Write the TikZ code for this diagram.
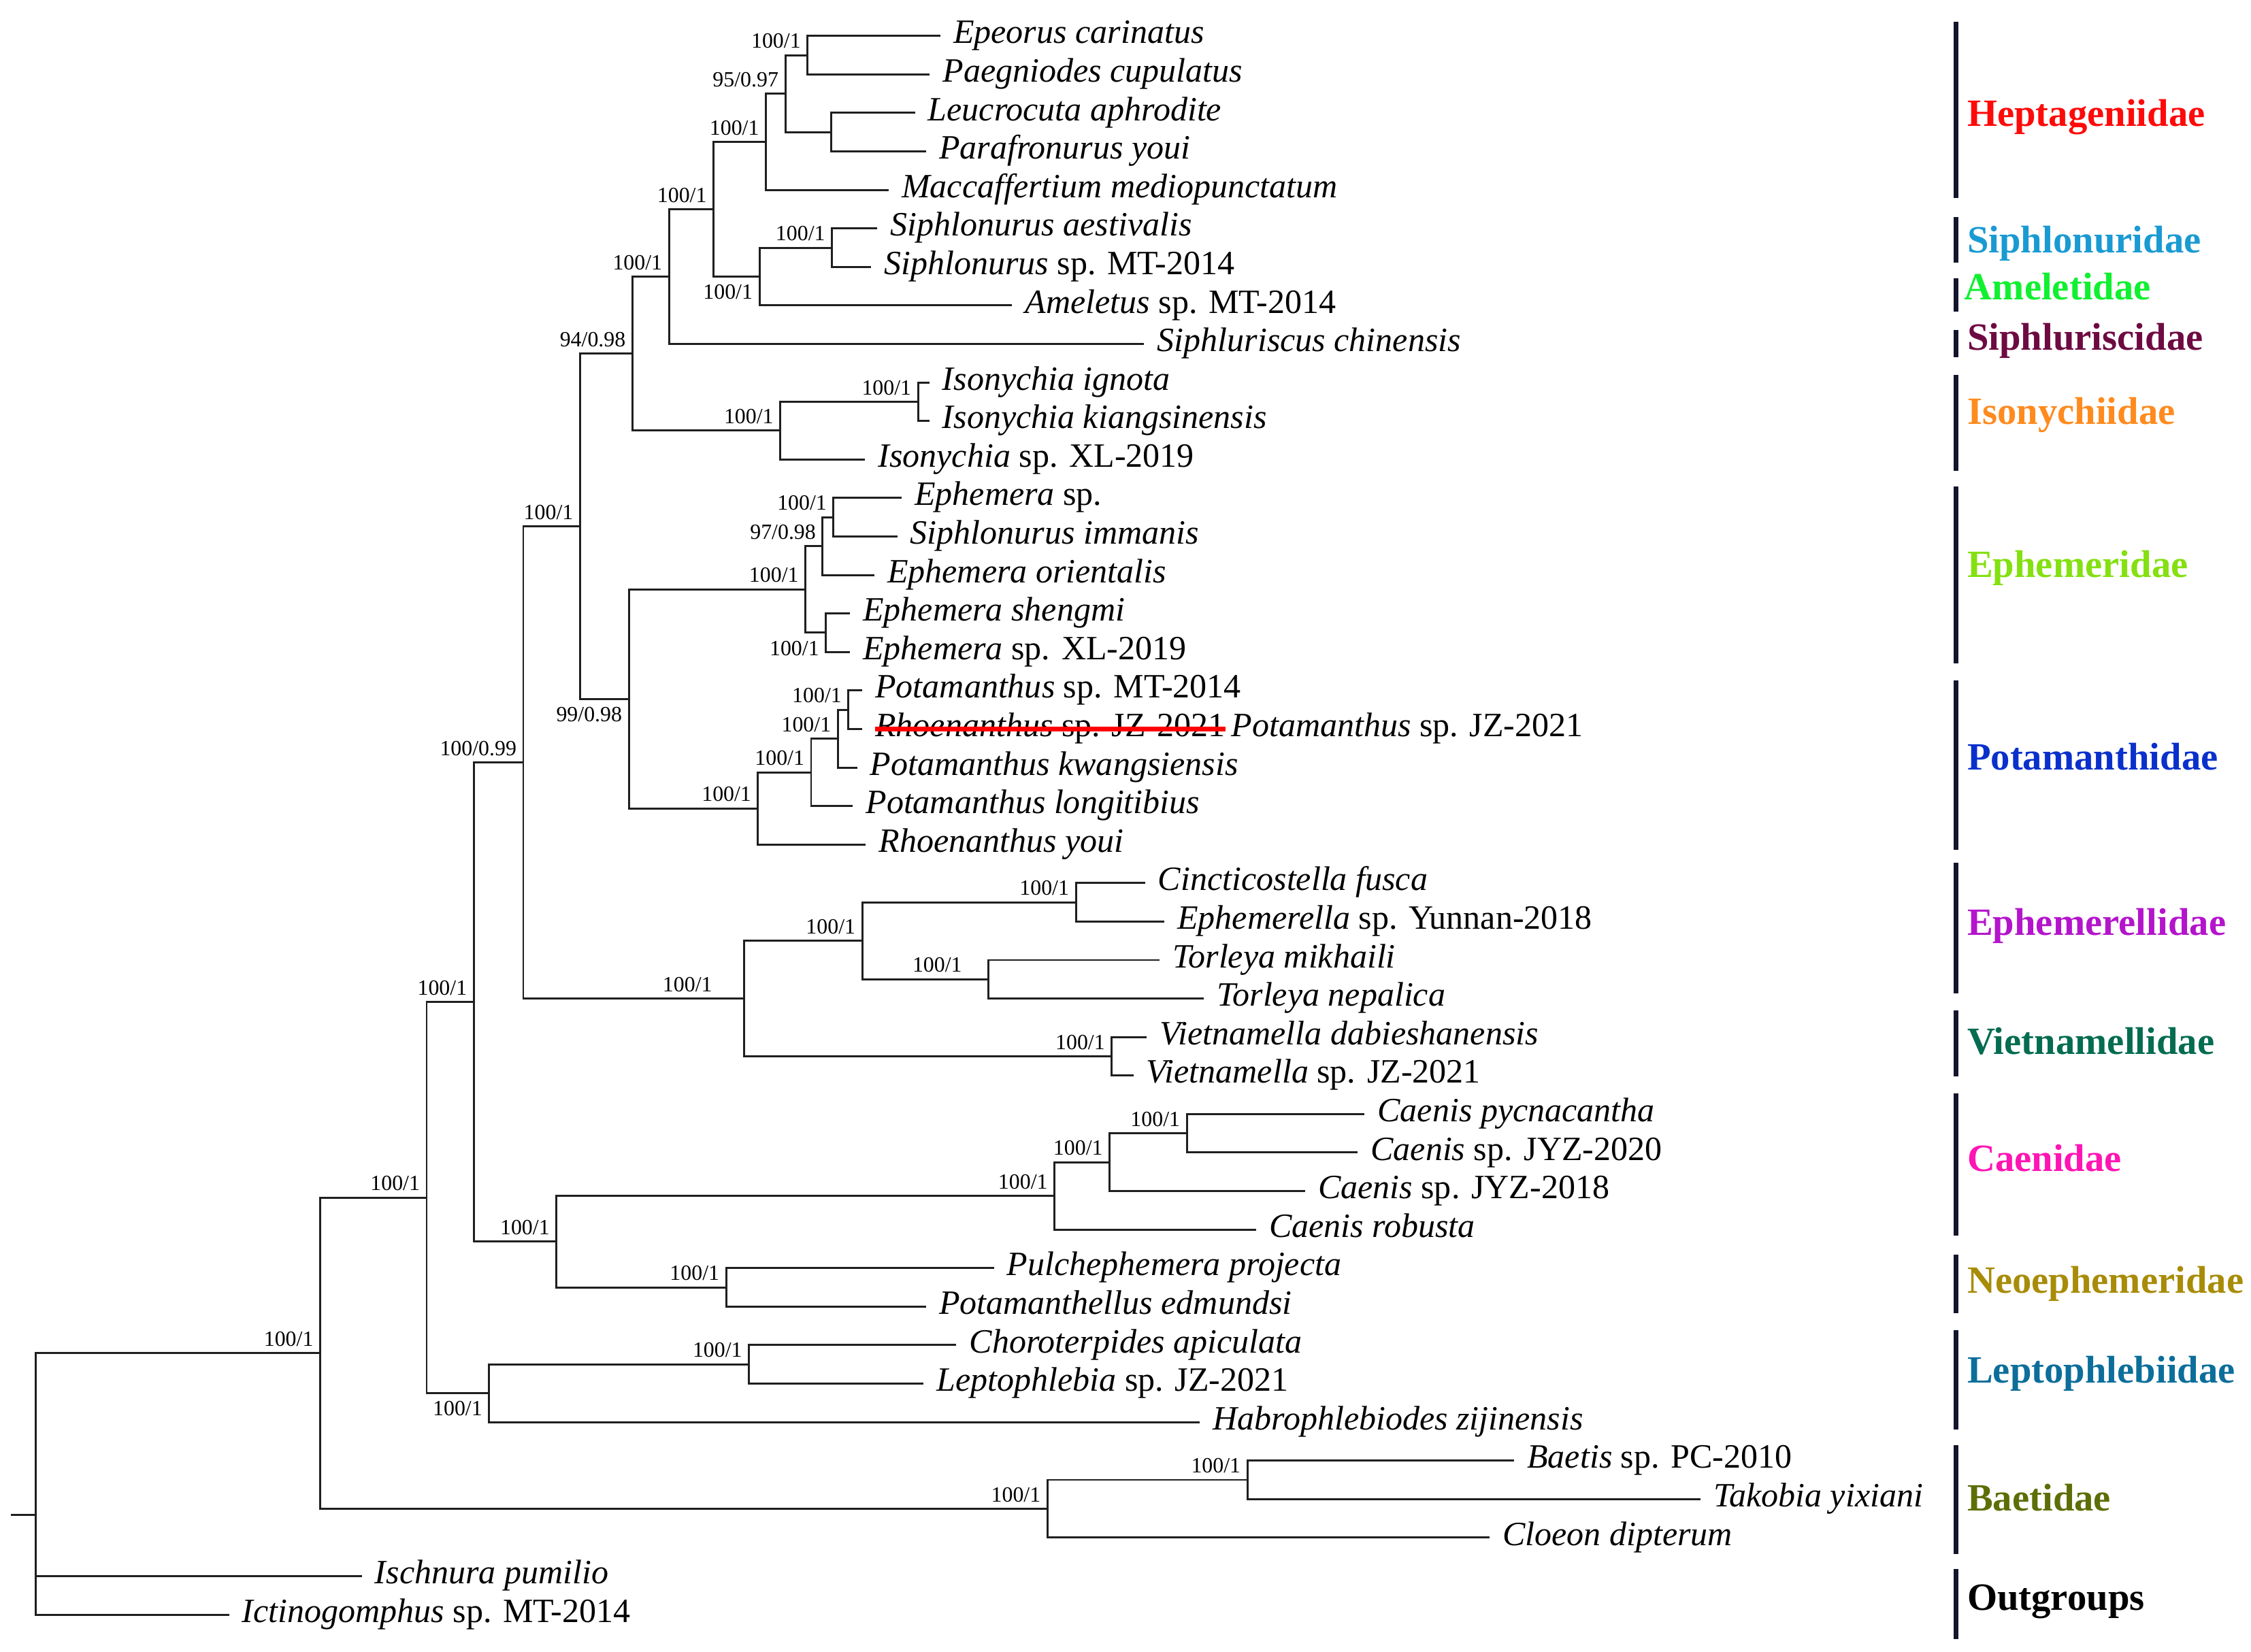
\documentclass[tikz,border=0pt]{standalone}
\usepackage{fontspec}
\setmainfont{Liberation Serif}
\usetikzlibrary{positioning}
\definecolor{hepta}{HTML}{FF0A0A}
\definecolor{siphlo}{HTML}{1A9AD2}
\definecolor{amele}{HTML}{10F030}
\definecolor{siphlu}{HTML}{6E0A42}
\definecolor{isony}{HTML}{FF8A1E}
\definecolor{ephem}{HTML}{84E010}
\definecolor{potam}{HTML}{0A30CC}
\definecolor{ephla}{HTML}{B414CC}
\definecolor{vietn}{HTML}{046C50}
\definecolor{caeni}{HTML}{FF14B4}
\definecolor{neoep}{HTML}{A88C08}
\definecolor{lepto}{HTML}{0C6E9A}
\definecolor{baeti}{HTML}{5E6E06}
\definecolor{barc}{HTML}{14142C}
\tikzset{
  leaf/.style={anchor=west, inner xsep=5pt, inner ysep=0pt,
    text height=0.8em, text depth=0.2em, font=\fontsize{13.5}{15}\selectfont},
  bs/.style={inner sep=1pt, font=\fontsize{8.6}{9}\selectfont},
  bsa/.style={bs, anchor=south east, xshift=-1.5pt, yshift=1.5pt},
  bsb/.style={bs, anchor=north east, xshift=-1.5pt, yshift=-2pt},
  fam/.style={anchor=west, inner sep=0pt, text height=0.66em, text depth=0pt,
    font=\fontsize{15.3}{17}\selectfont\bfseries},
  br/.style={line width=0.8pt, draw=black!88},
  bar/.style={line width=2pt, draw=barc},
  strike/.style={line width=1.9pt, draw=red}
}
\begin{document}
\begin{tikzpicture}[x=0.02cm, y=-0.5366cm]
  \useasboundingbox (0,0.068) rectangle (1568,42.968);
  % tips, one row each
  \node[leaf] (ec) at (655,1) {\textit{Epeorus carinatus}};
  \node[leaf] (pc) at (647.6,2) {\textit{Paegniodes cupulatus}};
  \node[leaf] (la) at (637.3,3) {\textit{Leucrocuta aphrodite}};
  \node[leaf] (py) at (645,4) {\textit{Parafronurus youi}};
  \node[leaf] (mm) at (619,5) {\textit{Maccaffertium mediopunctatum}};
  \node[leaf] (sa) at (611,6) {\textit{Siphlonurus aestivalis}};
  \node[leaf] (sm) at (606.7,7) {\textit{Siphlonurus} sp. MT-2014};
  \node[leaf] (am) at (705,8) {\textit{Ameletus} sp. MT-2014};
  \node[leaf] (sc) at (797,9) {\textit{Siphluriscus chinensis}};
  \node[leaf] (ii) at (647.3,10) {\textit{Isonychia ignota}};
  \node[leaf] (ik) at (647.3,11) {\textit{Isonychia kiangsinensis}};
  \node[leaf] (ix) at (602.6,12) {\textit{Isonychia} sp. XL-2019};
  \node[leaf] (es) at (628,13) {\textit{Ephemera} sp.};
  \node[leaf] (si) at (625,14) {\textit{Siphlonurus immanis}};
  \node[leaf] (eo) at (609,15) {\textit{Ephemera orientalis}};
  \node[leaf] (eh) at (592,16) {\textit{Ephemera shengmi}};
  \node[leaf] (ex) at (592,17) {\textit{Ephemera} sp. XL-2019};
  \node[leaf] (pm) at (600.6,18) {\textit{Potamanthus} sp. MT-2014};
  \node[leaf] (rs) at (600.6,19) {\textit{Rhoenanthus} sp. JZ-2021};
  \node[leaf] (pk) at (597,20) {\textit{Potamanthus kwangsiensis}};
  \node[leaf] (pl) at (594,21) {\textit{Potamanthus longitibius}};
  \node[leaf] (ry) at (603,22) {\textit{Rhoenanthus youi}};
  \node[leaf] (cf) at (797.6,23) {\textit{Cincticostella fusca}};
  \node[leaf] (ey) at (811,24) {\textit{Ephemerella} sp. Yunnan-2018};
  \node[leaf] (tm) at (807.7,25) {\textit{Torleya mikhaili}};
  \node[leaf] (tn) at (838.5,26) {\textit{Torleya nepalica}};
  \node[leaf] (vd) at (798.8,27) {\textit{Vietnamella dabieshanensis}};
  \node[leaf] (vj) at (789.5,28) {\textit{Vietnamella} sp. JZ-2021};
  \node[leaf] (cp) at (950.5,29) {\textit{Caenis pycnacantha}};
  \node[leaf] (cj) at (945.7,30) {\textit{Caenis} sp. JYZ-2020};
  \node[leaf] (ck) at (909,31) {\textit{Caenis} sp. JYZ-2018};
  \node[leaf] (cr) at (875,32) {\textit{Caenis robusta}};
  \node[leaf] (pp) at (692.3,33) {\textit{Pulchephemera projecta}};
  \node[leaf] (pe) at (645,34) {\textit{Potamanthellus edmundsi}};
  \node[leaf] (ca) at (666.2,35) {\textit{Choroterpides apiculata}};
  \node[leaf] (lj) at (643.3,36) {\textit{Leptophlebia} sp. JZ-2021};
  \node[leaf] (hz) at (835.7,37) {\textit{Habrophlebiodes zijinensis}};
  \node[leaf] (bp) at (1054.7,38) {\textit{Baetis} sp. PC-2010};
  \node[leaf] (ty) at (1184.4,39) {\textit{Takobia yixiani}};
  \node[leaf] (cd) at (1037.6,40) {\textit{Cloeon dipterum}};
  \node[leaf] (ip) at (252,41) {\textit{Ischnura pumilio}};
  \node[leaf] (ic) at (159.5,42) {\textit{Ictinogomphus} sp. MT-2014};
  % corrected name
  \draw[strike] ([xshift=5pt]rs.west) -- ([xshift=-5pt]rs.east);
  \node[leaf, xshift=-8pt] (ps) at (rs.east) {\textit{Potamanthus} sp. JZ-2021};
  % inner nodes
  \coordinate (hA) at (562.5,1.5);
  \coordinate (hB) at (579,3.5);
  \coordinate (hC) at (547,2.5);
  \coordinate (hD) at (533.5,3.75);
  \coordinate (sA) at (579.5,6.5);
  \coordinate (sB) at (529,7.25);
  \coordinate (nE) at (497,5.5);
  \coordinate (nF) at (466,7.25);
  \coordinate (iA) at (639.5,10.5);
  \coordinate (iB) at (543.5,11.25);
  \coordinate (nG) at (440.5,9.25);
  \coordinate (eA) at (580.6,13.5);
  \coordinate (eB) at (573,14.25);
  \coordinate (eC) at (575.3,16.5);
  \coordinate (eD) at (561,15.375);
  \coordinate (pA) at (591,18.5);
  \coordinate (pB) at (583.6,19.25);
  \coordinate (pC) at (565,20.125);
  \coordinate (pD) at (528,21.063);
  \coordinate (nH) at (438,18.219);
  \coordinate (nI) at (404,13.734);
  \coordinate (mA) at (749.4,23.5);
  \coordinate (mB) at (688.5,25.5);
  \coordinate (mC) at (600.6,24.5);
  \coordinate (vA) at (774.4,27.5);
  \coordinate (mD) at (518.2,26);
  \coordinate (nJ) at (364.5,19.867);
  \coordinate (cA) at (826.7,29.5);
  \coordinate (cB) at (772.9,30.25);
  \coordinate (cC) at (734.5,31.125);
  \coordinate (kA) at (505.8,33.5);
  \coordinate (nK) at (387.6,32.313);
  \coordinate (nL) at (330,26.09);
  \coordinate (lA) at (521.7,35.5);
  \coordinate (lB) at (340.7,36.25);
  \coordinate (nM) at (297.2,31.17);
  \coordinate (bA) at (868.9,38.5);
  \coordinate (bB) at (729.6,39.25);
  \coordinate (nN) at (223,35.21);
  \coordinate (rt) at (24.7,39.403);
  \coordinate (st) at (7.7,39.403);
  % branches
  \draw[br] (ec.west) -| (hA) |- (pc.west);
  \draw[br] (la.west) -| (hB) |- (py.west);
  \draw[br] (hA) -| (hC) |- (hB);
  \draw[br] (hC) -| (hD) |- (mm.west);
  \draw[br] (sa.west) -| (sA) |- (sm.west);
  \draw[br] (sA) -| (sB) |- (am.west);
  \draw[br] (hD) -| (nE) |- (sB);
  \draw[br] (nE) -| (nF) |- (sc.west);
  \draw[br] (ii.west) -| (iA) |- (ik.west);
  \draw[br] (iA) -| (iB) |- (ix.west);
  \draw[br] (nF) -| (nG) |- (iB);
  \draw[br] (es.west) -| (eA) |- (si.west);
  \draw[br] (eA) -| (eB) |- (eo.west);
  \draw[br] (eh.west) -| (eC) |- (ex.west);
  \draw[br] (eB) -| (eD) |- (eC);
  \draw[br] (pm.west) -| (pA) |- (rs.west);
  \draw[br] (pA) -| (pB) |- (pk.west);
  \draw[br] (pB) -| (pC) |- (pl.west);
  \draw[br] (pC) -| (pD) |- (ry.west);
  \draw[br] (eD) -| (nH) |- (pD);
  \draw[br] (nG) -| (nI) |- (nH);
  \draw[br] (cf.west) -| (mA) |- (ey.west);
  \draw[br] (tm.west) -| (mB) |- (tn.west);
  \draw[br] (mA) -| (mC) |- (mB);
  \draw[br] (vd.west) -| (vA) |- (vj.west);
  \draw[br] (mC) -| (mD) |- (vA);
  \draw[br] (nI) -| (nJ) |- (mD);
  \draw[br] (cp.west) -| (cA) |- (cj.west);
  \draw[br] (cA) -| (cB) |- (ck.west);
  \draw[br] (cB) -| (cC) |- (cr.west);
  \draw[br] (pp.west) -| (kA) |- (pe.west);
  \draw[br] (cC) -| (nK) |- (kA);
  \draw[br] (nJ) -| (nL) |- (nK);
  \draw[br] (ca.west) -| (lA) |- (lj.west);
  \draw[br] (lA) -| (lB) |- (hz.west);
  \draw[br] (nL) -| (nM) |- (lB);
  \draw[br] (bp.west) -| (bA) |- (ty.west);
  \draw[br] (bA) -| (bB) |- (cd.west);
  \draw[br] (nM) -| (nN) |- (bB);
  \draw[br] (nN) -| (rt) |- (ic.west);
  \draw[br] (rt) |- (ip.west);
  \draw[br] (st) -- (rt);
  % support values
  \node[bsa] (shA) at (hA) {100/1};
  \node[bsa] (shC) at (hC) {95/0.97};
  \node[bsa] (shD) at (hD) {100/1};
  \node[bsa] (ssA) at (sA) {100/1};
  \node[bsb] (ssB) at (sB) {100/1};
  \node[bsa] (snE) at (nE) {100/1};
  \node[bsa] (snF) at (nF) {100/1};
  \node[bsa] (siA) at (iA) {100/1};
  \node[bsa] (siB) at (iB) {100/1};
  \node[bsa] (snG) at (nG) {94/0.98};
  \node[bsa] (seA) at (eA) {100/1};
  \node[bsa] (seB) at (eB) {97/0.98};
  \node[bsb] (seC) at (eC) {100/1};
  \node[bsa] (seD) at (eD) {100/1};
  \node[bsa] (spA) at (pA) {100/1};
  \node[bsa] (spB) at (pB) {100/1};
  \node[bsa] (spC) at (pC) {100/1};
  \node[bsa] (spD) at (pD) {100/1};
  \node[bsb] (snH) at (nH) {99/0.98};
  \node[bsa] (snI) at (nI) {100/1};
  \node[bsa] (smA) at (mA) {100/1};
  \node[bsa, xshift=-7.8pt] (smB) at (mB) {100/1};
  \node[bsa] (smC) at (mC) {100/1};
  \node[bsa] (svA) at (vA) {100/1};
  \node[bsa, xshift=-9.9pt] (smD) at (mD) {100/1};
  \node[bsa] (snJ) at (nJ) {100/0.99};
  \node[bsa] (scA) at (cA) {100/1};
  \node[bsa] (scB) at (cB) {100/1};
  \node[bsa] (scC) at (cC) {100/1};
  \node[bsa] (skA) at (kA) {100/1};
  \node[bsa] (snK) at (nK) {100/1};
  \node[bsa] (snL) at (nL) {100/1};
  \node[bsa] (slA) at (lA) {100/1};
  \node[bsb] (slB) at (lB) {100/1};
  \node[bsa] (snM) at (nM) {100/1};
  \node[bsa] (sbA) at (bA) {100/1};
  \node[bsa] (sbB) at (bB) {100/1};
  \node[bsa] (snN) at (nN) {100/1};
  % family bars
  \draw[bar] (1362.6,0.627) -- (1362.6,5.212);
  \draw[bar] (1362.6,5.696) -- (1362.6,6.889);
  \draw[bar] (1362.6,7.299) -- (1362.6,8.156);
  \draw[bar] (1362.6,8.641) -- (1362.6,9.349);
  \draw[bar] (1362.6,9.796) -- (1362.6,12.293);
  \draw[bar] (1362.6,12.703) -- (1362.6,17.288);
  \draw[bar] (1362.6,17.735) -- (1362.6,22.133);
  \draw[bar] (1362.6,22.468) -- (1362.6,25.86);
  \draw[bar] (1362.6,26.307) -- (1362.6,28.022);
  \draw[bar] (1362.6,28.469) -- (1362.6,32.159);
  \draw[bar] (1362.6,32.643) -- (1362.6,34.171);
  \draw[bar] (1362.6,34.619) -- (1362.6,37.191);
  \draw[bar] (1362.6,37.6) -- (1362.6,40.433);
  \draw[bar] (1362.6,40.806) -- (1362.6,42.632);
  % family names
  \node[fam, text=hepta] (fhe) at (1370,3.124) {Heptageniidae};
  \node[fam, text=siphlo] (fsn) at (1370,6.423) {Siphlonuridae};
  \node[fam, text=amele] (fam) at (1368,7.634) {Ameletidae};
  \node[fam, text=siphlu] (fsc) at (1370,8.95) {Siphluriscidae};
  \node[fam, text=isony] (fis) at (1370,10.877) {Isonychiidae};
  \node[fam, text=ephem] (fep) at (1370,14.85) {Ephemeridae};
  \node[fam, text=potam] (fpo) at (1370,19.848) {Potamanthidae};
  \node[fam, text=ephla] (fel) at (1370,24.142) {Ephemerellidae};
  \node[fam, text=vietn] (fvi) at (1370,27.224) {Vietnamellidae};
  \node[fam, text=caeni] (fca) at (1370,30.269) {Caenidae};
  \node[fam, text=neoep] (fne) at (1370,33.434) {Neoephemeridae};
  \node[fam, text=lepto] (fle) at (1370,35.767) {Leptophlebiidae};
  \node[fam, text=baeti] (fba) at (1370,39.092) {Baetidae};
  \node[fam] (fou) at (1370,41.664) {Outgroups};
\end{tikzpicture}
\end{document}
